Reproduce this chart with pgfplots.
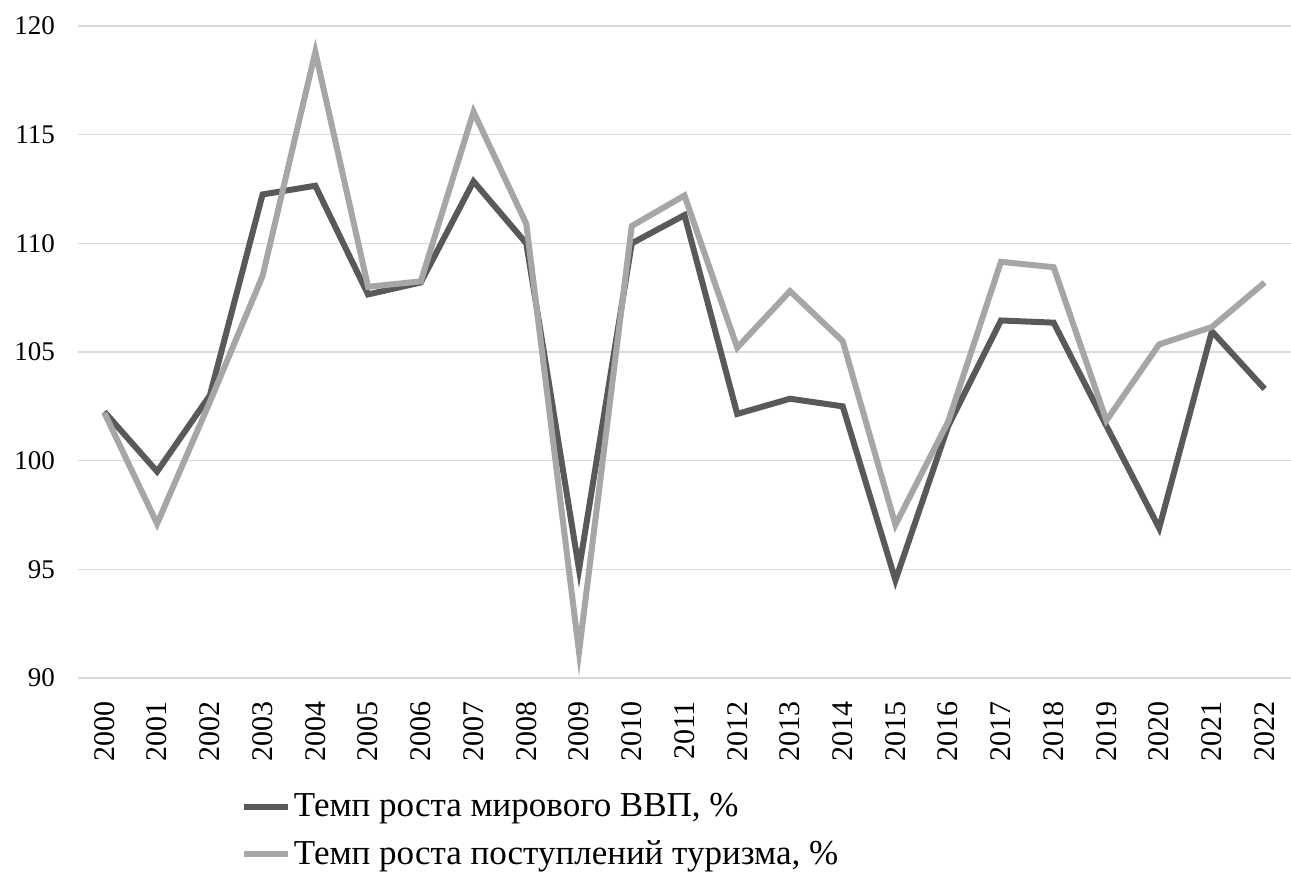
\documentclass[border=0pt]{standalone}
\usepackage{fontspec}
\setmainfont{Liberation Serif}
\usepackage{pgfplots}
\pgfplotsset{compat=1.18}
\definecolor{gdp}{HTML}{595959}
\definecolor{tour}{HTML}{A6A6A6}
\definecolor{grid}{HTML}{D9D9D9}
\begin{document}
\begin{tikzpicture}[font=\fontsize{14}{17}\selectfont]
\begin{axis}[
  scale only axis,
  width=606.5pt, height=326pt,
  xmin=1999.5, xmax=2022.5,
  ymin=90, ymax=120,
  ytick={90,95,...,120},
  xtick={2000,...,2022},
  /pgf/number format/1000 sep={},
  /pgf/number format/assume math mode=true,
  axis line style={draw=none},
  major tick length=0pt,
  ymajorgrids,
  grid style={color=grid, line width=0.8pt},
  xticklabel style={rotate=90, anchor=east, font=\fontsize{15}{18}\selectfont},
  yticklabel style={font=\fontsize{13.5}{16}\selectfont},
  xticklabel shift=8pt,
  yticklabel shift=8pt,
  clip=false,
  legend style={draw=none, fill=none, at={(axis description cs:0.134,-0.172)}, anchor=north west,
    row sep=7.5pt, inner sep=0pt, font=\fontsize{17.5}{20}\selectfont,
    nodes={inner sep=1.5pt}},
  legend cell align=left,
  legend image code/.code={\draw[#1] (0pt,0pt) -- (22pt,0pt);},
]
\addplot[color=gdp, line width=3pt, line join=miter] coordinates {
(2000,102.25) (2001,99.5) (2002,103.0) (2003,112.25) (2004,112.65) (2005,107.65)
(2006,108.2) (2007,112.85) (2008,110.0) (2009,95.0) (2010,110.0) (2011,111.3)
(2012,102.15) (2013,102.85) (2014,102.5) (2015,94.5) (2016,101.6) (2017,106.45)
(2018,106.35) (2019,101.6) (2020,96.9) (2021,105.95) (2022,103.3)};
\addlegendentry{Темп роста мирового ВВП, \%}
\addplot[color=tour, line width=3pt, line join=miter] coordinates {
(2000,102.2) (2001,97.1) (2002,102.7) (2003,108.5) (2004,118.8) (2005,108.0)
(2006,108.25) (2007,116.05) (2008,110.9) (2009,91.2) (2010,110.8) (2011,112.2)
(2012,105.2) (2013,107.8) (2014,105.5) (2015,97.05) (2016,101.8) (2017,109.15)
(2018,108.9) (2019,101.85) (2020,105.35) (2021,106.15) (2022,108.2)};
\addlegendentry{Темп роста поступлений туризма, \%}
\end{axis}
\pgfresetboundingbox
\path[use as bounding box] (-39pt,-97pt) rectangle (606.5pt,339pt);
\end{tikzpicture}
\end{document}
